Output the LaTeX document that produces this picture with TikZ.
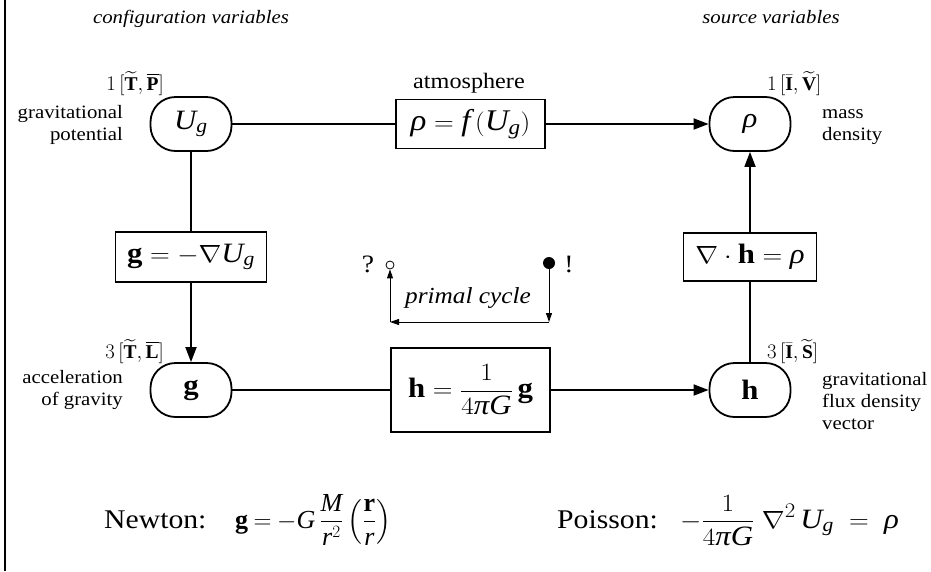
\documentclass[tikz,border=0pt]{standalone}
\usepackage{amsmath}
\usepackage{fontspec}
\setmainfont{Liberation Serif}
\usepackage{graphicx}
\usetikzlibrary{arrows.meta}
\newcommand{\sx}[1]{\scalebox{1.1}[1]{#1}}
\newcommand{\mi}[1]{\text{\itshape #1}}
\newcommand{\mb}[1]{\text{\bfseries #1}}
\tikzset{
  pill/.style={draw, rounded corners=25pt, minimum width=81pt, minimum height=54pt, inner sep=0pt, line width=1.8pt},
  eqbox/.style={draw, inner sep=0pt, line width=1.6pt},
  mth/.style={font=\fontsize{28}{32}\selectfont},
  lab/.style={inner sep=0pt, font=\fontsize{18.9}{22}\selectfont},
  dimlab/.style={inner sep=0pt, font=\fontsize{19.5}{22}\selectfont},
  conn/.style={line width=1.8pt},
  thinc/.style={line width=0.9pt, -{Triangle[length=9pt,width=6pt]}},
}
\begin{document}
\begin{tikzpicture}[x=1pt,y=-1pt, >={Triangle[length=15pt,width=11pt]}]
\useasboundingbox (0,0) rectangle (931,571);
\draw[line width=1.3pt] (5,0) -- (5,571);

% main nodes
\node[pill,mth] (U) at (191,124) {\sx{$\mi{U}_{\mi{g}}$}};
\node[pill,mth] (rho) at (750,124) {\sx{$\mi{ρ}$}};
\node[pill,mth] (g) at (191,390) {\sx{$\mb{g}$}};
\node[pill,mth] (h) at (750,390) {\sx{$\mb{h}$}};

\node[eqbox,font=\fontsize{30}{34}\selectfont,minimum width=149pt,minimum height=49pt] (f) at (470.5,124) {\sx{$\mi{ρ} = \mi{f}\,(\mi{U}_{\mi{g}})$}};
\node[eqbox,mth,minimum width=151pt,minimum height=50pt] (grad) at (191,257) {\sx{$\mb{g} = -\nabla \mi{U}_{\mi{g}}$}};
\node[eqbox,mth,minimum width=133pt,minimum height=48pt] (div) at (750,257) {\sx{$\nabla\cdot\mb{h} = \mi{ρ}$}};
\node[eqbox,mth,minimum width=159pt,minimum height=84pt] (hb) at (470.5,390) {\sx{$\displaystyle\mb{h} = \frac{1}{4\mi{π}\mi{G}}\,\mb{g}$}};

% connectors
\draw[conn] (U) -- (f);
\draw[conn,->] (f) -- (rho);
\draw[conn] (U) -- (grad);
\draw[conn,->] (grad) -- (g);
\draw[conn] (g) -- (hb);
\draw[conn,->] (hb) -- (h);
\draw[conn] (h) -- (div);
\draw[conn,->] (div) -- (rho);

% labels
\node[lab, anchor=base] (cv) at (191,23) {\sx{\itshape configuration variables}};
\node[lab, anchor=base] (sv) at (771,23) {\sx{\itshape source variables}};
\node[inner sep=0pt, font=\fontsize{22}{24}\selectfont, anchor=base] (atm) at (469,88) {\sx{atmosphere}};

\node[dimlab, anchor=base east] (tU) at (164,90) {$1\,[\widetilde{\mb{T}},\overline{\mb{P}}]$};
\node[lab, anchor=base east] (nU) at (123,118) {\sx{\begin{tabular}[t]{@{}r@{}}gravitational\\potential\end{tabular}}};

\node[dimlab, anchor=base west] (tR) at (767,90) {$1\,[\bar{\mb{I}},\widetilde{\mb{V}}]$};
\node[lab, anchor=base west] (nR) at (822,118) {\sx{\begin{tabular}[t]{@{}l@{}}mass\\density\end{tabular}}};

\node[dimlab, anchor=base east] (tg) at (164,358) {$3\,[\widetilde{\mb{T}},\overline{\mb{L}}]$};
\node[lab, anchor=base east] (ng) at (123,383) {\sx{\begin{tabular}[t]{@{}r@{}}acceleration\\of gravity\end{tabular}}};

\node[dimlab, anchor=base west] (th) at (767,358) {$3\,[\bar{\mb{I}},\widetilde{\mb{S}}]$};
\node[lab, anchor=base west] (nh) at (822,385) {\sx{\begin{tabular}[t]{@{}l@{}}gravitational\\flux density\\vector\end{tabular}}};

% primal cycle
\node[circle, draw, inner sep=0pt, minimum size=8pt, line width=0.8pt] (q) at (390,265) {};
\node[circle, fill, inner sep=0pt, minimum size=12pt] (e) at (549,263) {};
\coordinate (c1) at (549,322);
\coordinate (c2) at (390,322);
\draw[thinc] (e) -- (c1);
\draw[thinc] (c1) -- (c2);
\draw[thinc] (c2) -- (q);
\node[inner sep=0pt, anchor=base, font=\fontsize{25}{26}\selectfont] (qm) at (368,272) {\sx{?}};
\node[inner sep=0pt, anchor=base, font=\fontsize{25}{26}\selectfont] (em) at (569,272) {\sx{!}};
\node[inner sep=0pt, anchor=base, font=\fontsize{23}{26}\selectfont\itshape] (pc) at (468,303) {\sx{primal cycle}};

% bottom equations
\node[inner sep=0pt, anchor=base west, font=\fontsize{27}{30}\selectfont] (nw) at (104,528) {\sx{Newton:}};
\node[inner sep=0pt, anchor=base west, font=\fontsize{26}{30}\selectfont] (ne) at (235,528) {$\displaystyle \thickmuskip=4mu \mb{g} = -\mi{G}\,\frac{\mi{M}}{\mi{r}^2}\left(\frac{\mb{r}}{\mi{r}}\right)$};
\node[inner sep=0pt, anchor=base west, font=\fontsize{27}{30}\selectfont] (pw) at (557,528) {\sx{Poisson:}};
\node[inner sep=0pt, anchor=base west, mth] (pe) at (680,528) {\sx{$\displaystyle -\frac{1}{4\mi{π}\mi{G}}\;\nabla^2\,\mi{U}_{\mi{g}} \;=\; \mi{ρ}$}};
\end{tikzpicture}
\end{document}
